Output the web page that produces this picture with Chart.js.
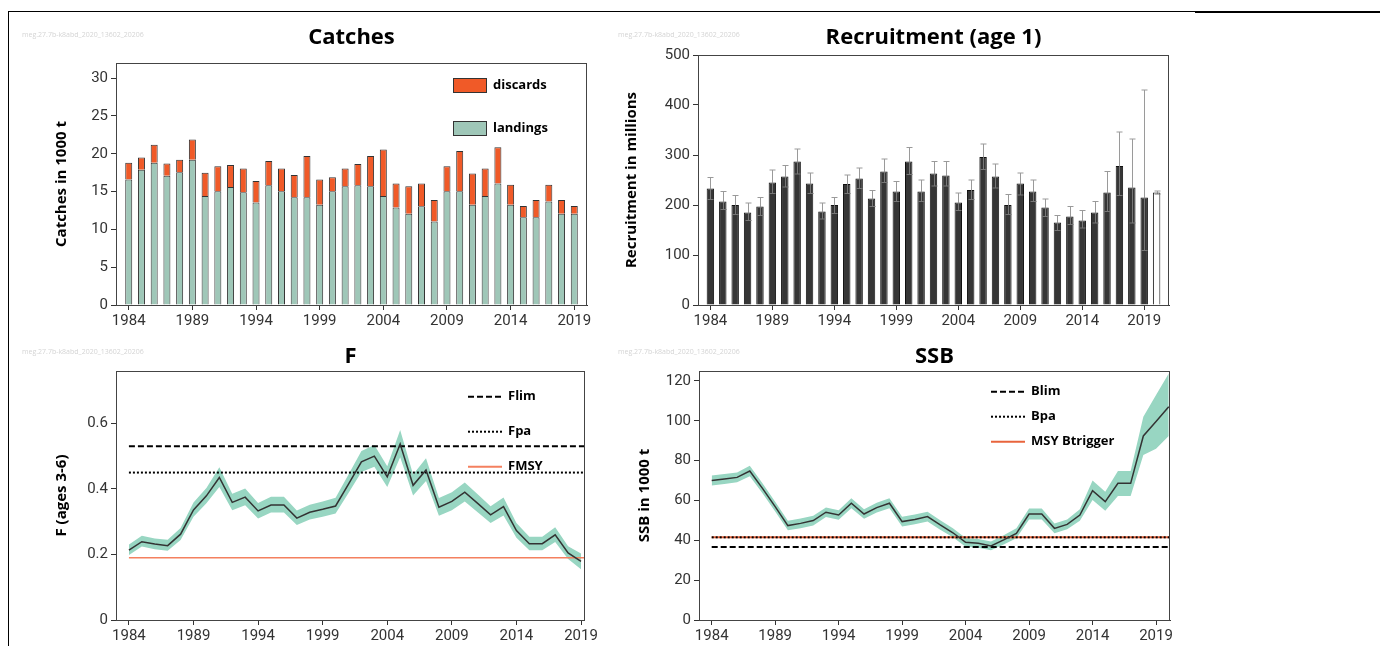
<!DOCTYPE html>
<html>
<head>
<meta charset="utf-8">
<script src="https://cdn.jsdelivr.net/npm/chart.js@4.4.0/dist/chart.umd.min.js"></script>
<style>
  body { margin: 0; background: #fff; width: 1380px; height: 646px; overflow: hidden; position: relative; }
  .panel { position: absolute; }
  .rule { position: absolute; z-index: 10; }
  #lineTop { left: 8px; top: 11px; width: 1187px; border-top: 1px solid #000; }
  #lineTop2 { left: 1195px; top: 11px; width: 185px; border-top: 2px solid #000; }
  #lineLeft { left: 8px; top: 11px; height: 640px; border-left: 1px solid #000; }
</style>
</head>
<body>
<div class="panel" style="left:0;top:0"><canvas id="catches" width="600" height="340"></canvas></div>
<div class="panel" style="left:600px;top:0"><canvas id="recruit" width="600" height="340"></canvas></div>
<div class="panel" style="left:0;top:320px"><canvas id="fish" width="600" height="326"></canvas></div>
<div class="panel" style="left:600px;top:320px"><canvas id="ssb" width="600" height="326"></canvas></div>
<div class="rule" id="lineTop"></div>
<div class="rule" id="lineTop2"></div>
<div class="rule" id="lineLeft"></div>
<script>
// ---- data ----
var years = [1984, 1985, 1986, 1987, 1988, 1989, 1990, 1991, 1992, 1993, 1994, 1995,
  1996, 1997, 1998, 1999, 2000, 2001, 2002, 2003, 2004, 2005, 2006, 2007,
  2008, 2009, 2010, 2011, 2012, 2013, 2014, 2015, 2016, 2017, 2018, 2019];
var yearsPlus = years.concat([2020]);
var tickYears = [1984, 1989, 1994, 1999, 2004, 2009, 2014, 2019];

// catches, 1000 t
var landings = [16.6, 17.9, 18.8, 17.1, 17.55, 19.2, 14.4, 15.05, 15.6, 14.9, 13.55, 15.85,
  15.05, 14.25, 14.25, 13.25, 15.05, 15.7, 15.85, 15.7, 14.4, 12.9, 12.05, 13.05,
  11.05, 15.05, 15.05, 13.25, 14.4, 16.05, 13.25, 11.6, 11.6, 13.7, 12.05, 12.05];
var discards = [2.2, 1.6, 2.4, 1.6, 1.65, 2.7, 3.1, 3.3, 2.9, 3.15, 2.85, 3.2,
  3.0, 2.95, 5.45, 3.35, 1.85, 2.35, 2.8, 4.0, 6.15, 3.15, 3.65, 3.0,
  2.85, 3.3, 5.3, 4.15, 3.65, 4.8, 2.65, 1.5, 2.3, 2.2, 1.85, 1.05];
var catchTicks = [0, 5, 10, 15, 20, 25, 30];

// recruitment age 1, millions (1984-2020)
var recruitment = [233, 207, 200, 185, 197, 245, 257, 287, 243, 187, 200, 242,
  253, 213, 267, 227, 287, 227, 263, 259, 205, 230, 296, 257,
  200, 243, 227, 195, 165, 177, 169, 185, 225, 278, 235, 215, 225];
var recHigh = [255, 227, 219, 204, 215, 270, 279, 312, 264, 204, 215, 260,
  274, 229, 292, 247, 315, 250, 287, 287, 224, 250, 322, 282,
  221, 264, 250, 212, 179, 197, 189, 207, 267, 346, 332, 430, 228];
var recLow = [211, 191, 181, 169, 179, 223, 236, 262, 223, 172, 183, 223,
  233, 197, 245, 207, 261, 207, 238, 238, 189, 211, 271, 234,
  181, 220, 207, 177, 149, 161, 154, 164, 187, 219, 164, 109, 222];
var recTicks = [0, 100, 200, 300, 400, 500];

// fishing mortality, ages 3-6
var fishing = [0.213, 0.239, 0.232, 0.227, 0.262, 0.336, 0.379, 0.435, 0.359, 0.375, 0.333, 0.351,
  0.351, 0.311, 0.329, 0.338, 0.348, 0.415, 0.483, 0.500, 0.437, 0.537, 0.411, 0.458,
  0.344, 0.362, 0.390, 0.356, 0.321, 0.346, 0.273, 0.233, 0.233, 0.260, 0.205, 0.179];
var fLow = [0.198, 0.224, 0.216, 0.211, 0.244, 0.315, 0.356, 0.406, 0.335, 0.350, 0.310, 0.328,
  0.328, 0.290, 0.307, 0.315, 0.325, 0.388, 0.452, 0.468, 0.406, 0.497, 0.380, 0.424,
  0.318, 0.335, 0.362, 0.329, 0.296, 0.319, 0.251, 0.213, 0.213, 0.238, 0.186, 0.155];
var fHigh = [0.230, 0.257, 0.249, 0.245, 0.281, 0.359, 0.403, 0.466, 0.385, 0.401, 0.357, 0.376,
  0.376, 0.334, 0.352, 0.362, 0.373, 0.444, 0.516, 0.534, 0.469, 0.580, 0.444, 0.494,
  0.372, 0.390, 0.420, 0.384, 0.347, 0.374, 0.296, 0.254, 0.254, 0.283, 0.225, 0.203];
var fTicks = [0, 0.2, 0.4, 0.6];
var Flim = 0.53, Fpa = 0.45, FMSY = 0.19;

// SSB, 1000 t (1984-2020)
var ssb = [70.0, 70.8, 71.6, 74.8, 66.1, 56.9, 47.4, 48.5, 49.9, 54.1, 52.7, 58.6,
  53.2, 56.4, 58.6, 49.4, 50.5, 51.9, 47.7, 43.8, 39.0, 38.5, 37.2, 40.2,
  43.5, 53.2, 53.2, 46.0, 48.0, 52.7, 64.9, 59.4, 68.6, 68.6, 92.4, 99.6, 107.1];
var ssbLow = [67.5, 68.3, 69.1, 72.2, 63.6, 54.5, 45.0, 46.1, 47.5, 51.7, 50.3, 56.1,
  50.8, 54.0, 56.1, 47.0, 48.1, 49.5, 45.3, 41.5, 36.8, 36.3, 35.0, 37.9,
  41.0, 50.5, 50.5, 43.5, 45.5, 49.8, 60.3, 54.9, 62.3, 62.3, 82.8, 86.0, 92.4];
var ssbHigh = [72.5, 73.3, 74.1, 77.4, 68.6, 59.3, 49.8, 50.9, 52.3, 56.5, 55.1, 61.1,
  55.6, 58.8, 61.1, 51.8, 52.9, 54.3, 50.1, 46.1, 41.2, 40.7, 39.4, 42.5,
  46.0, 56.0, 56.0, 48.5, 50.5, 55.6, 70.0, 64.4, 74.8, 74.8, 102.0, 113.0, 123.8];
var ssbTicks = [0, 20, 40, 60, 80, 100, 120];
var Blim = 36.7, Bpa = 41.5, MSYBtrigger = 41.5;

var stockCode = 'meg.27.7b-k8abd_2020_13602_20206';

// ---- styling ----
var landColor = '#9fc7b8';
var discColor = '#f05a28';
var bandColor = '#98d6c2';
var msyColor = '#f4805f';
var axisColor = '#333';
var tickFont = { family: 'Roboto', size: 15 };
var axisTitleFont = { family: 'Open Sans', size: 15, weight: 'bold' };
var titleFont = { family: 'Open Sans', size: 22, weight: 'bold' };

function pts(xs, ys) {
  return xs.map(function (x, i) { return { x: x, y: ys[i] }; });
}

function xAxis(min, max, height) {
  return {
    type: 'linear', min: min, max: max, offset: false,
    afterBuildTicks: function (s) { s.ticks = tickYears.map(function (v) { return { value: v }; }); },
    afterFit: function (s) { s.height = height; },
    ticks: { color: axisColor, font: tickFont, padding: 2, maxRotation: 0, autoSkip: false,
      callback: function (v) { return String(v); } },
    grid: { drawOnChartArea: false, offset: false, tickLength: 5, color: axisColor },
    border: { color: axisColor }
  };
}

function yAxis(max, ticks, width, title, titlePad, stacked) {
  return {
    type: 'linear', min: 0, max: max, stacked: !!stacked,
    afterBuildTicks: function (s) { s.ticks = ticks.map(function (v) { return { value: v }; }); },
    afterFit: function (s) { s.width = width; },
    ticks: { color: axisColor, font: tickFont, padding: 3,
      callback: function (v) { return String(v); } },
    grid: { drawOnChartArea: false, tickLength: 5, color: axisColor },
    border: { color: axisColor },
    title: { display: true, text: title, font: axisTitleFont, color: '#000', padding: { top: titlePad, bottom: 0 } }
  };
}

function titleOpts(text, bottom) {
  return { display: true, text: text, fullSize: false, font: titleFont, color: '#000',
    padding: { top: 13, bottom: bottom } };
}

// frame, stock code and legend inside each panel
var panelDecor = {
  id: 'panelDecor',
  afterDatasetsDraw: function (chart, args, o) {
    var ctx = chart.ctx, a = chart.chartArea;
    ctx.save();
    ctx.strokeStyle = '#444';
    ctx.lineWidth = 1;
    ctx.strokeRect(Math.round(a.left) + 0.5, Math.round(a.top) + 0.5,
      Math.round(a.right - a.left) - 1, Math.round(a.bottom - a.top));
    ctx.fillStyle = '#d4d4d4';
    ctx.font = '7px "Open Sans"';
    ctx.textBaseline = 'middle';
    ctx.fillText(stockCode, o.codeX, o.codeY);
    (o.legend || []).forEach(function (it) {
      var x = a.left + o.legendX, y = a.top + it.y;
      if (it.kind === 'box') {
        ctx.fillStyle = it.color;
        ctx.fillRect(x, y - 7.5, 34, 15);
        ctx.strokeStyle = '#333';
        ctx.strokeRect(x + 0.5, y - 7, 33, 14);
      } else {
        ctx.strokeStyle = it.color;
        ctx.lineWidth = it.width;
        ctx.setLineDash(it.dash);
        ctx.beginPath();
        ctx.moveTo(x, y);
        ctx.lineTo(x + 34, y);
        ctx.stroke();
        ctx.setLineDash([]);
      }
      ctx.fillStyle = '#000';
      ctx.font = 'bold 13px "Open Sans"';
      ctx.textBaseline = 'middle';
      ctx.fillText(it.text, x + 40, y);
    });
    ctx.restore();
  }
};

// recruitment error bars
var errorBars = {
  id: 'errorBars',
  afterDatasetsDraw: function (chart) {
    if (chart.canvas.id !== 'recruit') return;
    var ctx = chart.ctx, xs = chart.scales.x, ys = chart.scales.y;
    ctx.save();
    ctx.lineWidth = 1;
    yearsPlus.forEach(function (yr, i) {
      var x = Math.round(xs.getPixelForValue(yr)) + 0.5;
      var top = ys.getPixelForValue(recHigh[i]);
      var bot = ys.getPixelForValue(recLow[i]);
      var mid = ys.getPixelForValue(recruitment[i]);
      ctx.strokeStyle = '#9a9a9a';
      ctx.beginPath();
      ctx.moveTo(x, mid); ctx.lineTo(x, top);
      ctx.moveTo(x - 3, top); ctx.lineTo(x + 3, top);
      ctx.stroke();
      ctx.strokeStyle = '#777';
      ctx.beginPath();
      ctx.moveTo(x, mid); ctx.lineTo(x, bot);
      ctx.moveTo(x - 3, bot); ctx.lineTo(x + 3, bot);
      ctx.stroke();
    });
    ctx.restore();
  }
};

Chart.register(panelDecor, errorBars);

var common = {
  responsive: false,
  animation: false,
  events: []
};

// Catches
new Chart(document.getElementById('catches'), {
  type: 'bar',
  data: {
    datasets: [
      { label: 'landings', data: pts(years, landings), backgroundColor: landColor,
        borderColor: '#333', borderWidth: 1, barPercentage: 0.55, categoryPercentage: 1 },
      { label: 'discards', data: pts(years, discards), backgroundColor: discColor,
        borderColor: '#333', borderWidth: 1, barPercentage: 0.55, categoryPercentage: 1 }
    ]
  },
  options: Object.assign({}, common, {
    layout: { padding: { top: 12, left: 0, right: 13, bottom: 0 } },
    scales: {
      x: Object.assign(xAxis(1983, 2020, 35), { stacked: true }),
      y: yAxis(32, catchTicks, 116, 'Catches in 1000 t', 53, true)
    },
    plugins: {
      legend: { display: false }, tooltip: { enabled: false },
      title: titleOpts('Catches', 11.6),
      panelDecor: { codeX: 22, codeY: 35, legendX: 337, legend: [
        { kind: 'box', y: 22.5, color: discColor, text: 'discards' },
        { kind: 'box', y: 65.5, color: landColor, text: 'landings' }
      ] }
    }
  })
});

// Recruitment
new Chart(document.getElementById('recruit'), {
  type: 'bar',
  data: {
    datasets: [
      { label: 'recruitment', data: pts(yearsPlus, recruitment),
        backgroundColor: function (c) { return c.dataIndex === yearsPlus.length - 1 ? '#fff' : '#363636'; },
        borderColor: '#111', borderWidth: 1, barPercentage: 0.6, categoryPercentage: 1 }
    ]
  },
  options: Object.assign({}, common, {
    layout: { padding: { top: 12, left: 0, right: 31, bottom: 0 } },
    scales: {
      x: xAxis(1983, 2021, 35),
      y: yAxis(500, recTicks, 98, 'Recruitment in millions', 23)
    },
    plugins: {
      legend: { display: false }, tooltip: { enabled: false },
      title: titleOpts('Recruitment (age 1)', 3.6),
      panelDecor: { codeX: 18, codeY: 35, legendX: 0, legend: [] }
    }
  })
});

function refLine(x0, x1, v, color, width, dash) {
  return { data: pts([x0, x1], [v, v]), borderColor: color, borderWidth: width, borderDash: dash,
    pointRadius: 0, fill: false };
}

// F
new Chart(document.getElementById('fish'), {
  type: 'line',
  data: {
    datasets: [
      { label: 'F', data: pts(years, fishing), borderColor: '#333', borderWidth: 1.5, pointRadius: 0, fill: false },
      refLine(1984, 2019.3, Flim, '#000', 2, [6, 3]),
      refLine(1984, 2019.3, Fpa, '#000', 2, [2, 2]),
      refLine(1984, 2019.3, FMSY, msyColor, 1.5, []),
      { label: 'low', data: pts(years, fLow), borderWidth: 0, pointRadius: 0, fill: false },
      { label: 'high', data: pts(years, fHigh), borderWidth: 0, pointRadius: 0, fill: '-1', backgroundColor: bandColor }
    ]
  },
  options: Object.assign({}, common, {
    layout: { padding: { top: 11, left: 0, right: 13, bottom: 0 } },
    scales: {
      x: xAxis(1983, 2019.3, 26),
      y: yAxis(0.76, fTicks, 116, 'F (ages 3-6)', 53)
    },
    plugins: {
      legend: { display: false }, tooltip: { enabled: false },
      title: titleOpts('F', 0.6),
      panelDecor: { codeX: 22, codeY: 32, legendX: 352, legend: [
        { kind: 'line', y: 25.7, color: '#000', width: 2, dash: [6, 3], text: 'Flim' },
        { kind: 'line', y: 60.7, color: '#000', width: 2, dash: [2, 2], text: 'Fpa' },
        { kind: 'line', y: 95.7, color: msyColor, width: 2, dash: [], text: 'FMSY' }
      ] }
    }
  })
});

// SSB
new Chart(document.getElementById('ssb'), {
  type: 'line',
  data: {
    datasets: [
      { label: 'SSB', data: pts(yearsPlus, ssb), borderColor: '#333', borderWidth: 1.5, pointRadius: 0, fill: false },
      refLine(1984, 2020.1, Blim, '#000', 2, [6, 3]),
      refLine(1984, 2020.1, Bpa, '#000', 2, [2, 2]),
      refLine(1984, 2020.1, MSYBtrigger, '#e8643c', 2, []),
      { label: 'low', data: pts(yearsPlus, ssbLow), borderWidth: 0, pointRadius: 0, fill: false },
      { label: 'high', data: pts(yearsPlus, ssbHigh), borderWidth: 0, pointRadius: 0, fill: '-1', backgroundColor: bandColor }
    ]
  },
  options: Object.assign({}, common, {
    layout: { padding: { top: 11, left: 0, right: 30, bottom: 0 } },
    scales: {
      x: xAxis(1983, 2020.1, 26),
      y: yAxis(125, ssbTicks, 99, 'SSB in 1000 t', 36)
    },
    plugins: {
      legend: { display: false }, tooltip: { enabled: false },
      title: titleOpts('SSB', 0.6),
      panelDecor: { codeX: 18, codeY: 32, legendX: 292, legend: [
        { kind: 'line', y: 20.7, color: '#000', width: 2, dash: [6, 3], text: 'Blim' },
        { kind: 'line', y: 45.7, color: '#000', width: 2, dash: [2, 2], text: 'Bpa' },
        { kind: 'line', y: 70.7, color: '#e8643c', width: 2, dash: [], text: 'MSY Btrigger' }
      ] }
    }
  })
});
</script>
</body>
</html>
